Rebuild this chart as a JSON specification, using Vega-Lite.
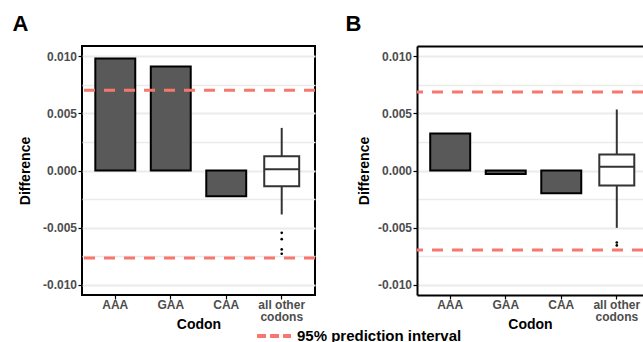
{
  "$schema": "https://vega.github.io/schema/vega-lite/v6.json",
  "padding": {"left": 11, "top": 12, "right": 0, "bottom": 0},
  "bounds": "flush",
  "spacing": 102,
  "background": "white",
  "config": {
    "font": "Liberation Sans",
    "view": {"stroke": null},
    "axisY": {
      "labelExpr": "replace(format(datum.value, '.3f'), '\u2212', '-')",
      "labelOverlap": false,
      "gridColor": "#ebebeb",
      "gridWidth": 2,
      "tickSize": 4,
      "tickColor": "black",
      "tickWidth": 1.2,
      "domain": false,
      "labelPadding": 1.5,
      "labelColor": "#4d4d4d",
      "labelFontWeight": "bold",
      "labelFontSize": 12,
      "titleFontSize": 14,
      "titleFontWeight": "bold",
      "titleColor": "black",
      "titlePadding": 10
    },
    "axisX": {
      "labelAngle": 0,
      "labelExpr": "datum.value == 'all other codons' ? ['all other', 'codons'] : datum.value",
      "labelLineHeight": 12,
      "labelOverlap": false,
      "gridColor": "#ebebeb",
      "gridWidth": 2,
      "tickColor": "black",
      "tickWidth": 1.2,
      "tickSize": 4,
      "domain": false,
      "labelPadding": 0.5,
      "labelColor": "#4d4d4d",
      "labelFontWeight": "bold",
      "labelFontSize": 12,
      "titleFontSize": 14,
      "titleFontWeight": "bold",
      "titleColor": "black",
      "titlePadding": -5
    }
  },
  "datasets": {
    "bars": [
      {"panel": "A", "codon": "AAA", "value": 0.0098},
      {"panel": "A", "codon": "GAA", "value": 0.0091},
      {"panel": "A", "codon": "CAA", "value": -0.00225},
      {"panel": "B", "codon": "AAA", "value": 0.00324},
      {"panel": "B", "codon": "GAA", "value": -0.0003},
      {"panel": "B", "codon": "CAA", "value": -0.002}
    ],
    "boxes": [
      {"panel": "A", "codon": "all other codons", "lower": -0.00385, "q1": -0.00137, "median": 0.0001, "q3": 0.00125, "upper": 0.00373},
      {"panel": "B", "codon": "all other codons", "lower": -0.00502, "q1": -0.00131, "median": 0.00032, "q3": 0.0014, "upper": 0.00534}
    ],
    "outliers": [
      {"panel": "A", "codon": "all other codons", "value": -0.00546},
      {"panel": "A", "codon": "all other codons", "value": -0.00601},
      {"panel": "A", "codon": "all other codons", "value": -0.00691},
      {"panel": "A", "codon": "all other codons", "value": -0.00729},
      {"panel": "B", "codon": "all other codons", "value": -0.0063},
      {"panel": "B", "codon": "all other codons", "value": -0.00656}
    ],
    "limits": [
      {"panel": "A", "bound": "upper", "value": 0.00703},
      {"panel": "A", "bound": "lower", "value": -0.00767},
      {"panel": "B", "bound": "upper", "value": 0.00688},
      {"panel": "B", "bound": "lower", "value": -0.00695}
    ]
  },
  "hconcat": [
    {
      "width": 233,
      "height": 249,
      "view": {"stroke": "black", "strokeWidth": 2},
      "title": {"text": "A", "anchor": "start", "frame": "bounds", "dx": -6, "fontSize": 22, "fontWeight": "bold", "color": "black", "offset": 10},
      "resolve": {"axis": {"y": "independent"}},
      "layer": [
        {
          "data": {"name": "bars"},
          "transform": [{"filter": "datum.panel == 'A'"}],
          "mark": {"type": "bar", "fill": "#595959", "stroke": "black", "strokeWidth": 2},
          "encoding": {
            "x": {"field": "codon", "type": "nominal", "title": "Codon", "scale": {"domain": ["AAA", "GAA", "CAA", "all other codons"], "paddingInner": 0.28, "paddingOuter": 0.24}},
            "y": {"field": "value", "type": "quantitative", "title": "Difference", "scale": {"domain": [-0.0109, 0.0109], "nice": false, "zero": false}, "axis": {"values": [-0.01, -0.005, 0, 0.005, 0.01]}},
            "y2": {"datum": 0}
          }
        },
        {
          "data": {"name": "boxes"},
          "transform": [{"filter": "datum.panel == 'A'"}],
          "mark": {"type": "rule", "color": "#333333", "strokeWidth": 2},
          "encoding": {
            "x": {"field": "codon", "type": "nominal", "title": "Codon"},
            "y": {"field": "lower", "type": "quantitative", "axis": {"orient": "left", "values": [-0.0075, -0.0025, 0.0025, 0.0075], "labels": false, "ticks": false, "domain": false, "title": null, "grid": true, "gridWidth": 1.3, "gridColor": "#ebebeb"}},
            "y2": {"field": "upper"}
          }
        },
        {
          "data": {"name": "boxes"},
          "transform": [{"filter": "datum.panel == 'A'"}],
          "mark": {"type": "bar", "fill": "white", "stroke": "#333333", "strokeWidth": 2, "width": {"band": 0.875}},
          "encoding": {
            "x": {"field": "codon", "type": "nominal", "title": "Codon"},
            "y": {"field": "q1", "type": "quantitative", "axis": null},
            "y2": {"field": "q3"}
          }
        },
        {
          "data": {"name": "boxes"},
          "transform": [{"filter": "datum.panel == 'A'"}],
          "mark": {"type": "tick", "color": "#333333", "thickness": 2, "size": 35, "opacity": 1},
          "encoding": {
            "x": {"field": "codon", "type": "nominal", "title": "Codon"},
            "y": {"field": "median", "type": "quantitative", "axis": null}
          }
        },
        {
          "data": {"name": "outliers"},
          "transform": [{"filter": "datum.panel == 'A'"}],
          "mark": {"type": "circle", "color": "black", "size": 7, "opacity": 1},
          "encoding": {
            "x": {"field": "codon", "type": "nominal", "title": "Codon"},
            "y": {"field": "value", "type": "quantitative", "axis": null}
          }
        },
        {
          "data": {"name": "limits"},
          "transform": [{"filter": "datum.panel == 'A'"}],
          "mark": {"type": "rule", "strokeWidth": 3, "strokeDash": [11, 9]},
          "encoding": {
            "y": {"field": "value", "type": "quantitative", "axis": null},
            "color": {
              "datum": "95% prediction interval",
              "type": "nominal",
              "scale": {"range": ["#F8766D"]},
              "legend": {
                "orient": "none",
                "legendX": 173,
                "legendY": 271,
                "title": null,
                "symbolType": "stroke",
                "symbolStrokeWidth": 4,
                "symbolDash": [9, 4],
                "symbolSize": 1150,
                "labelFontSize": 15,
                "labelFontWeight": "bold",
                "labelColor": "black",
                "labelLimit": 0
              }
            }
          }
        }
      ]
    },
    {
      "width": 226,
      "height": 249,
      "title": {"text": "B", "anchor": "start", "frame": "bounds", "dx": -12, "fontSize": 22, "fontWeight": "bold", "color": "black", "offset": 10},
      "resolve": {"axis": {"x": "independent", "y": "independent"}},
      "layer": [
        {
          "data": {"name": "bars"},
          "transform": [{"filter": "datum.panel == 'B'"}],
          "mark": {"type": "bar", "fill": "#595959", "stroke": "black", "strokeWidth": 2},
          "encoding": {
            "x": {"field": "codon", "type": "nominal", "title": "Codon", "scale": {"domain": ["AAA", "GAA", "CAA", "all other codons"], "paddingInner": 0.28, "paddingOuter": 0.175, "align": 0.68}, "axis": {"domain": true, "domainColor": "black", "domainWidth": 2}},
            "y": {"field": "value", "type": "quantitative", "title": "Difference", "scale": {"domain": [-0.0109, 0.0109], "nice": false, "zero": false}, "axis": {"values": [-0.01, -0.005, 0, 0.005, 0.01], "domain": true, "domainColor": "black", "domainWidth": 2, "titlePadding": 6}},
            "y2": {"datum": 0}
          }
        },
        {
          "data": {"name": "boxes"},
          "transform": [{"filter": "datum.panel == 'B'"}],
          "mark": {"type": "rule", "color": "#333333", "strokeWidth": 2},
          "encoding": {
            "x": {"field": "codon", "type": "nominal", "axis": null},
            "y": {"field": "lower", "type": "quantitative", "axis": {"orient": "left", "values": [-0.0075, -0.0025, 0.0025, 0.0075], "labels": false, "ticks": false, "domain": false, "title": null, "grid": true, "gridWidth": 1.3, "gridColor": "#ebebeb"}},
            "y2": {"field": "upper"}
          }
        },
        {
          "data": {"name": "boxes"},
          "transform": [{"filter": "datum.panel == 'B'"}],
          "mark": {"type": "bar", "fill": "white", "stroke": "#333333", "strokeWidth": 2, "width": {"band": 0.875}},
          "encoding": {
            "x": {"field": "codon", "type": "nominal", "axis": null},
            "y": {"field": "q1", "type": "quantitative", "axis": null},
            "y2": {"field": "q3"}
          }
        },
        {
          "data": {"name": "boxes"},
          "transform": [{"filter": "datum.panel == 'B'"}],
          "mark": {"type": "tick", "color": "#333333", "thickness": 2, "size": 35, "opacity": 1},
          "encoding": {
            "x": {"field": "codon", "type": "nominal", "axis": null},
            "y": {"field": "median", "type": "quantitative", "axis": null}
          }
        },
        {
          "data": {"name": "outliers"},
          "transform": [{"filter": "datum.panel == 'B'"}],
          "mark": {"type": "circle", "color": "black", "size": 7, "opacity": 1},
          "encoding": {
            "x": {"field": "codon", "type": "nominal", "axis": {"orient": "top", "labels": false, "ticks": false, "grid": false, "title": null, "domain": true, "domainColor": "black", "domainWidth": 2}},
            "y": {"field": "value", "type": "quantitative", "axis": null}
          }
        },
        {
          "data": {"name": "limits"},
          "transform": [{"filter": "datum.panel == 'B'"}],
          "mark": {"type": "rule", "strokeWidth": 3, "strokeDash": [11, 9]},
          "encoding": {
            "y": {"field": "value", "type": "quantitative", "axis": null},
            "color": {"datum": "95% prediction interval", "type": "nominal"}
          }
        }
      ]
    }
  ],
  "resolve": {"scale": {"x": "independent", "y": "independent", "color": "shared"}, "legend": {"color": "shared"}}
}
